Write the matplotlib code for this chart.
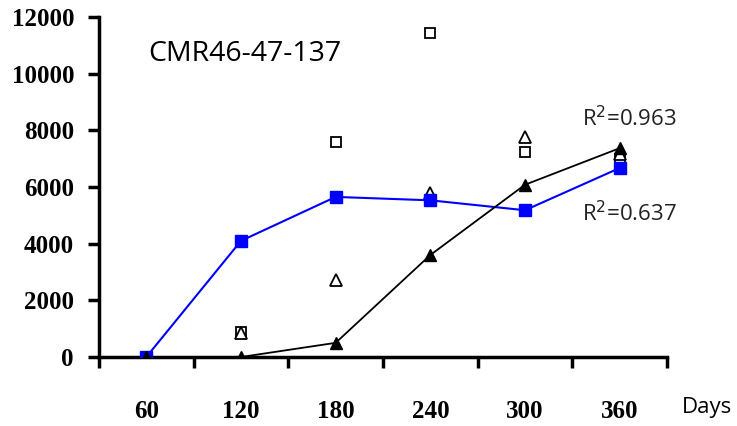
import matplotlib
matplotlib.use("Agg")
import matplotlib.pyplot as plt
import numpy as np

days = ["60", "120", "180", "240", "300", "360"]
mean_sq = [0, 4100, 5650, 5530, 5180, 6670]      # blue filled squares
mean_tri = [0, 0, 500, 3600, 6080, 7370]         # black filled triangles
open_sq = [None, 870, 7590, 11440, 7240, 7000]   # open squares
open_tri = [None, 850, 2720, 5790, 7770, 7150]   # open triangles
r2_labels = ["R$^{2}$=0.963", "R$^{2}$=0.637"]

fig = plt.figure(figsize=(7.37, 4.26), dpi=100)
ax = fig.add_axes([99/737, (426-357)/426, (667-99)/737, 340/426])

x = np.arange(1, len(days) + 1)

def clean(vals):
    return np.array([np.nan if v is None else v for v in vals], dtype=float)

ax.plot(x, clean(open_sq), linestyle="none", marker="s", markersize=7,
        markerfacecolor="white", markeredgecolor="black", markeredgewidth=1.3, zorder=3)
ax.plot(x, clean(open_tri), linestyle="none", marker="^", markersize=8,
        markerfacecolor="white", markeredgecolor="black", markeredgewidth=1.3, zorder=3)
ax.plot(x, mean_sq, color="#0000ff", linewidth=1.5, marker="s", markersize=8,
        markerfacecolor="#0000ff", markeredgecolor="#0000ff", zorder=4)
ax.plot(x, mean_tri, color="black", linewidth=1.3, marker="^", markersize=9,
        markerfacecolor="black", markeredgecolor="black", zorder=5)

ax.set_xlim(0.5, len(days) + 0.5)
ax.set_ylim(0, 12000)
ax.set_yticks(np.arange(0, 12001, 2000))
ax.set_yticklabels([str(v) for v in range(0, 12001, 2000)],
                   fontfamily="Liberation Serif", fontweight="bold", fontsize=18)
ax.set_xticks(np.arange(0.5, len(days) + 1, 1))
ax.set_xticklabels([])
for xi, lab in zip(x, days):
    ax.text(xi, -1920, lab, ha="center", va="center", fontfamily="Liberation Serif",
            fontweight="bold", fontsize=18)

ax.tick_params(axis="y", direction="out", length=8, width=2.5, pad=10)
ax.tick_params(axis="x", direction="out", length=8, width=2.5)
for s in ["top", "right"]:
    ax.spines[s].set_visible(False)
for s in ["left", "bottom"]:
    ax.spines[s].set_linewidth(2.5)

ax.text(1.02, 10700, "CMR46-47-137", fontfamily="Open Sans", fontsize=20.5,
        ha="left", va="center")
ax.text(5.6, 8430, r2_labels[0], fontfamily="Open Sans", fontsize=16,
        ha="left", va="center", color="#222222")
ax.text(5.6, 5070, r2_labels[1], fontfamily="Open Sans", fontsize=16,
        ha="left", va="center", color="#222222")
ax.text(6.66, -1800, "Days", fontfamily="Open Sans", fontsize=16,
        ha="left", va="center", clip_on=False)

fig.savefig("out.png", dpi=100)
